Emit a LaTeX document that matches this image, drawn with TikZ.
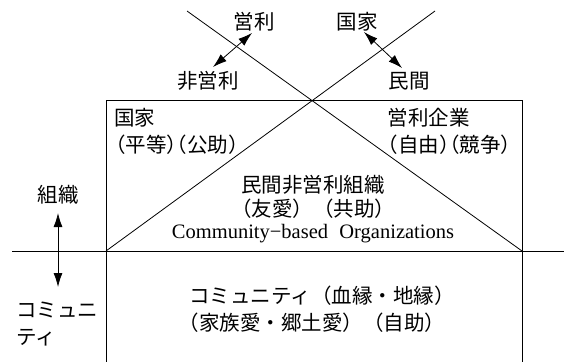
\documentclass[tikz,border=0pt]{standalone}
\usepackage{fontspec}
\setmainfont{Liberation Serif}
\newfontfamily\jp{Noto Sans CJK JP}
\newfontfamily\jph{Noto Sans CJK JP}[RawFeature=+halt]
\usetikzlibrary{arrows.meta}
\begin{document}
\begin{tikzpicture}[x=1pt,y=-1pt,
  lbl/.style={inner sep=0pt, font=\jp\fontsize{20.5}{24}\selectfont},
  lblh/.style={inner sep=0pt, font=\jph\fontsize{20.5}{24}\selectfont},
  eng/.style={inner sep=0pt, font=\fontsize{20.5}{24}\selectfont},
  ln/.style={line width=0.8pt},
  dbl/.style={ln, {Latex[length=14pt,width=9pt]}-{Latex[length=14pt,width=9pt]}}
]
\useasboundingbox (0,0) rectangle (567,362);
% frame
\coordinate (tl) at (106,100);
\coordinate (tr) at (522,100);
\coordinate (bl) at (106,251);
\coordinate (br) at (522,251);
\coordinate (x1) at (187,11);
\coordinate (x2) at (435,11);
\coordinate (hl) at (12,251);
\coordinate (hr) at (564,251);
\coordinate (vl) at (106,362);
\coordinate (vr) at (522,362);
\draw[ln] (tl) -- (tr) -- (br);
\draw[ln] (tl) -- (bl);
\draw[ln] (hl) -- (hr);
\draw[ln] (bl) -- (vl);
\draw[ln] (br) -- (vr);
\draw[ln] (x1) -- (br);
\draw[ln] (bl) -- (x2);
% top labels
\node[lbl] (eiri) at (254,22) {営利};
\node[lbl] (kokkaT) at (357,22) {国家};
\node[lbl] (hieiri) at (208,81) {非営利};
\node[lbl] (minkanT) at (409,81) {民間};
\coordinate (a1) at (252,33);
\coordinate (a2) at (213,67);
\coordinate (b1) at (364,32);
\coordinate (b2) at (402,68);
\draw[dbl] (a1) -- (a2);
\draw[dbl] (b1) -- (b2);
% inside
\node[lbl] (kokka) at (134.5,118) {国家};
\node[lblh] (kokkaP) at (177,145) {（平等）（公助）};
\node[lbl] (eirikigyo) at (428.5,118) {営利企業};
\node[lblh] (eiriP) at (449.5,145) {（自由）（競争）};
\node[lbl] (npo) at (313,185) {民間非営利組織};
\node[lbl] (npoP) at (313,209) {（友愛）（共助）};
\node[eng] (cbo) at (313,234) {Community−based\hspace{0.3em} Organizations};
% left
\node[lbl] (soshiki) at (58,195) {組織};
\coordinate (c1) at (58,213);
\coordinate (c2) at (58,287);
\draw[dbl] (c1) -- (c2);
\node[lbl,anchor=west] (comm1) at (16,310) {コミュニ};
\node[lbl,anchor=west] (comm2) at (16,338) {ティ};
% bottom
\node[lbl] (comm) at (322,296) {コミュニティ（血縁・地縁）};
\node[lbl] (commP) at (312,323) {（家族愛・郷土愛）（自助）};
\end{tikzpicture}
\end{document}
